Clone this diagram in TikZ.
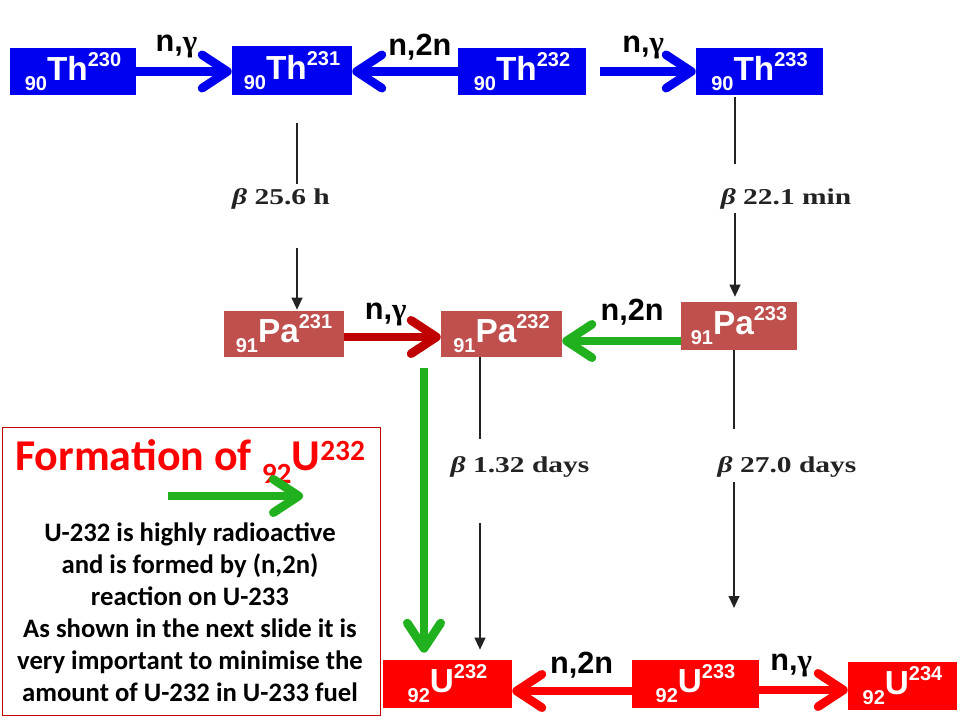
\documentclass[tikz,border=0pt]{standalone}
\usepackage{fontspec}
\setmainfont{Liberation Sans}
\newfontfamily\calibri{Carlito}
\newfontfamily\timesfont[FakeStretch=1.3]{Liberation Serif}
\newfontfamily\greekfont{Liberation Serif}
\usetikzlibrary{arrows.meta}

\definecolor{thblue}{RGB}{0,0,240}
\definecolor{pared}{RGB}{192,80,77}
\definecolor{darkred}{RGB}{192,0,0}
\definecolor{ured}{RGB}{255,0,0}
\definecolor{nucgreen}{RGB}{34,177,30}
\definecolor{decaygray}{RGB}{35,35,35}

% nuclide label: Z, symbol, A
\newcommand{\nuc}[3]{\raisebox{-7.5pt}{\fontsize{15}{15}\selectfont #1}#2\raisebox{10.5pt}{\fontsize{15}{15}\selectfont #3}}
\newcommand{\gam}{{\greekfont γ}}

\tikzset{
  nucbox/.style={rectangle, text=white, inner sep=0pt,
    font=\bfseries\fontsize{25}{26}\selectfont},
  react/.style={draw=#1, line width=6.5pt,
    -{Straight Barb[length=19pt,width=25pt,round]}},
  lbl/.style={text=black, inner sep=0pt, font=\bfseries\fontsize{23}{24}\selectfont},
  decayline/.style={draw=decaygray, line width=1.5pt},
  decayarrow/.style={decayline, -{Triangle[length=9pt,width=8pt]}},
  betalbl/.style={text=decaygray, inner sep=0pt,
    font=\timesfont\bfseries\fontsize{17}{18}\selectfont}
}

\begin{document}
\begin{tikzpicture}[x=0.75pt,y=-0.75pt]
\useasboundingbox (0,0) rectangle (960,720);

% thorium row
\node[nucbox, fill=thblue, minimum width=94.5pt, minimum height=35.25pt] (Th230) at (73,71.5) {\nuc{90}{Th}{230}};
\node[nucbox, fill=thblue, minimum width=90pt, minimum height=36.75pt] (Th231) at (292,70.5) {\nuc{90}{Th}{231}};
\node[nucbox, fill=thblue, minimum width=96pt, minimum height=35.25pt] (Th232) at (522,71.5) {\nuc{90}{Th}{232}};
\node[nucbox, fill=thblue, minimum width=95.25pt, minimum height=35.25pt] (Th233) at (759.5,71.5) {\nuc{90}{Th}{233}};

% protactinium row
\node[nucbox, fill=pared, minimum width=90pt, minimum height=34.5pt] (Pa231) at (284,334) {\nuc{91}{Pa}{231}};
\node[nucbox, fill=pared, minimum width=90.75pt, minimum height=34.5pt] (Pa232) at (501.5,334) {\nuc{91}{Pa}{232}};
\node[nucbox, fill=pared, minimum width=87pt, minimum height=36pt] (Pa233) at (739,326) {\nuc{91}{Pa}{233}};

% uranium row
\node[nucbox, fill=ured, minimum width=96.75pt, minimum height=36pt] (U232) at (447.5,684) {\nuc{92}{U}{232}};
\node[nucbox, fill=ured, minimum width=95.25pt, minimum height=36pt] (U233) at (695.5,684) {\nuc{92}{U}{233}};
\node[nucbox, fill=ured, minimum width=81.75pt, minimum height=36pt] (U234) at (902.5,686) {\nuc{92}{U}{234}};

% neutron reactions
\draw[react=thblue] (Th230.east) -- (Th231.west |- Th230.east)
  node[lbl, pos=0.42, yshift=18.5pt] {n,\gam};
\draw[react=thblue] (Th232.west) -- (Th231.east |- Th232.west)
  node[lbl, pos=0.36, yshift=18pt] {n,2n};
\draw[react=thblue, shorten <=10.5pt] (Th232.east) -- (Th233.west)
  node[lbl, pos=0.52, yshift=18pt] {n,\gam};
\draw[react=darkred] ([yshift=-2.25pt]Pa231.east) -- ([yshift=-2.25pt]Pa232.west)
  node[lbl, pos=0.43, yshift=17pt] {n,\gam};
\draw[react=nucgreen] ([yshift=-11.25pt]Pa233.west) -- ([yshift=-5.25pt]Pa232.east)
  node[lbl, pos=0.41, yshift=21.75pt] {n,2n};
\draw[react=ured] ([yshift=-5.25pt]U233.west) -- ([yshift=-5.25pt]U232.east)
  node[lbl, pos=0.42, yshift=19.5pt] {n,2n};
\draw[react=ured] ([yshift=-4.5pt]U233.east) -- ([yshift=-3pt]U234.west)
  node[lbl, pos=0.36, yshift=18pt] {n,\gam};

% beta decays
\node[betalbl] (b1) at (281,199) {\textit{β} 25.6 h};
\node[betalbl] (b2) at (786,199) {\textit{β} 22.1 min};
\node[betalbl] (b3) at (520,467) {\textit{β} 1.32 days};
\node[betalbl] (b4) at (787,467) {\textit{β} 27.0 days};
\coordinate (c1) at (297,199);
\coordinate (c2) at (735,199);
\coordinate (c3) at (480,467);
\coordinate (c4) at (734,467);
\coordinate (e4) at (734,608);
\draw[decayline, shorten <=21pt, shorten >=11.25pt] (Th231.south -| c1) -- (c1);
\draw[decayarrow, shorten <=36.75pt, shorten >=0.75pt] (c1) -- (c1 |- Pa231.north);
\draw[decayline, shorten <=1.5pt, shorten >=26.25pt] (Th233.south -| c2) -- (c2);
\draw[decayarrow, shorten <=10.5pt, shorten >=3.75pt] (c2) -- (c2 |- Pa233.north);
\draw[decayline, shorten >=21pt] (Pa232.south -| c3) -- (c3);
\draw[decayarrow, shorten <=42pt, shorten >=7.5pt] (c3) -- (c3 |- U232.north);
\draw[decayline, shorten >=28.5pt] (Pa233.south -| c4) -- (c4);
\draw[decayarrow, shorten <=11.25pt] (c4) -- (e4);

% U-232 route
\coordinate (g0) at (424,368);
\draw[react=nucgreen, shorten >=5.25pt] (g0) -- (g0 |- U232.north);

% note box
\node[draw=darkred, line width=0.75pt, minimum width=283.5pt, minimum height=216pt, inner sep=0pt] (info) at (191,571) {};
\node[anchor=base west, text=ured, inner sep=0pt, font=\calibri\bfseries\fontsize{33}{34}\selectfont] (title) at (15,470)
  {Formation of \raisebox{-10pt}{\fontsize{22}{22}\selectfont 92}U\raisebox{7.5pt}{\fontsize{22}{22}\selectfont 232}};
\coordinate (lg0) at (168,496);
\coordinate (lg1) at (303,496);
\draw[react=nucgreen] (lg0) -- (lg1);
\node[align=center, inner sep=0pt, font=\calibri\bfseries\fontsize{20}{24}\selectfont] (note) at (190,612)
  {U-232 is highly radioactive\\ and is formed by (n,2n)\\ reaction on U-233\\
   As shown in the next slide it is\\ very important to minimise the\\ amount of U-232 in U-233 fuel};

\end{tikzpicture}
\end{document}
